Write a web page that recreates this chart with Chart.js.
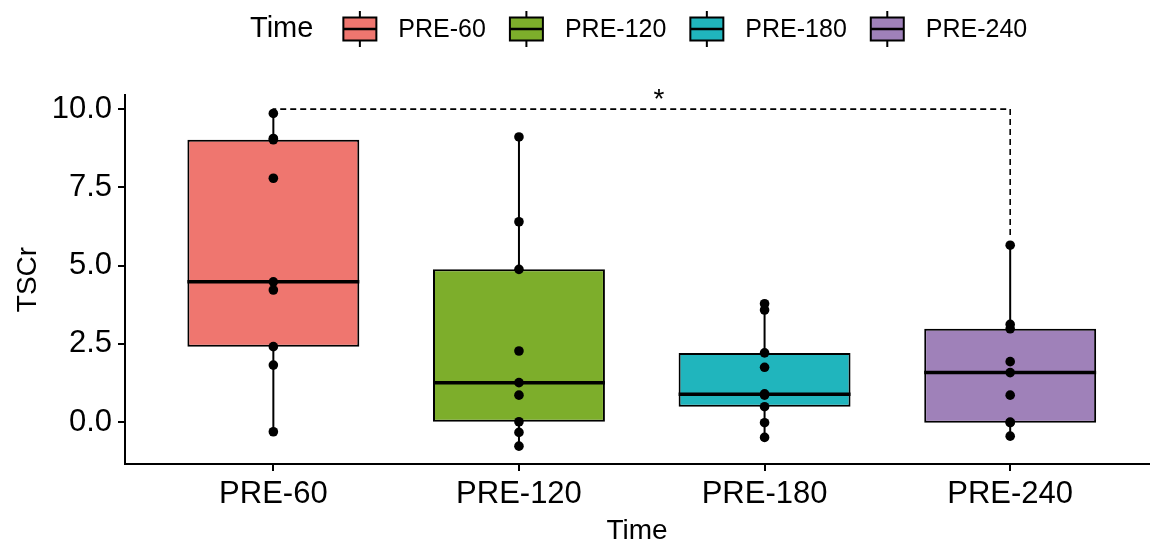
<!DOCTYPE html>
<html>
<head>
<meta charset="utf-8">
<script src="https://cdn.jsdelivr.net/npm/chart.js@4.4.0/dist/chart.umd.min.js"></script>
<style>
  html, body { margin: 0; padding: 0; background: #fff; }
  #wrap { width: 1154px; height: 548px; position: relative; }
</style>
</head>
<body>
<div id="wrap"><canvas id="chart"></canvas></div>
<script>
// Gruppen und Farben
const categories = ['PRE-60', 'PRE-120', 'PRE-180', 'PRE-240'];
const fillColors = ['#EF766F', '#7DAE2B', '#20B5BD', '#9F81B9'];

// Einzelwerte je Gruppe
const pre60 = [9.86, 9.06, 9.02, 7.79, 4.48, 4.22, 2.41, 1.82, -0.31];
const pre120 = [9.11, 6.40, 4.88, 2.27, 1.26, 0.86, 0.01, -0.33, -0.77];
const pre180 = [3.78, 3.58, 2.21, 1.75, 0.90, 0.86, 0.49, -0.02, -0.49];
const pre240 = [5.65, 3.12, 2.98, 1.93, 1.58, 0.86, 0.00, -0.02, -0.45];
const groups = [pre60, pre120, pre180, pre240];

// Boxplot-Kennwerte
const q1 = [2.41, 0.01, 0.49, -0.02];
const medians = [4.48, 1.26, 0.89, 1.58];
const q3 = [9.02, 4.88, 2.21, 2.98];
const whiskerLow = [-0.31, -0.77, -0.49, -0.45];
const whiskerHigh = [9.86, 9.11, 3.78, 5.65];

const yTicks = [0, 2.5, 5, 7.5, 10];

// Signifikanz-Klammer PRE-60 vs PRE-240
const bracketGroups = [0, 3];
const bracketY = 10.0;
const bracketTips = [9.9, 5.85];
const bracketLabel = '*';
const bracketLabelX = 1.57;

const FONT = '"Liberation Sans", Arial, sans-serif';
Chart.defaults.font.family = FONT;
Chart.defaults.color = '#000';

const boxParts = {
  id: 'boxParts',
  beforeDatasetsDraw(chart) {
    const { ctx } = chart;
    const x = chart.scales.x, y = chart.scales.y;
    ctx.save();
    ctx.strokeStyle = '#000';
    ctx.lineWidth = 2;
    categories.forEach((c, i) => {
      const px = x.getPixelForValue(i);
      ctx.beginPath();
      ctx.moveTo(px, y.getPixelForValue(whiskerLow[i]));
      ctx.lineTo(px, y.getPixelForValue(whiskerHigh[i]));
      ctx.stroke();
    });
    ctx.restore();
  },
  afterDatasetDraw(chart, args) {
    if (args.index !== 1) return;
    const { ctx } = chart;
    const y = chart.scales.y;
    ctx.save();
    ctx.strokeStyle = '#000';
    ctx.lineWidth = 3.5;
    args.meta.data.forEach((bar, i) => {
      const p = bar.getProps(['x', 'width'], true);
      const py = y.getPixelForValue(medians[i]);
      ctx.beginPath();
      ctx.moveTo(p.x - p.width / 2, py);
      ctx.lineTo(p.x + p.width / 2, py);
      ctx.stroke();
    });
    ctx.restore();
  },
  afterDatasetsDraw(chart) {
    const { ctx } = chart;
    const x = chart.scales.x, y = chart.scales.y;
    const x0 = x.getPixelForValue(bracketGroups[0]);
    const x1 = x.getPixelForValue(bracketGroups[1]);
    const yb = y.getPixelForValue(bracketY);
    ctx.save();
    ctx.strokeStyle = '#000';
    ctx.lineWidth = 1.6;
    ctx.setLineDash([6, 4]);
    ctx.beginPath();
    ctx.moveTo(x0, y.getPixelForValue(bracketTips[0]));
    ctx.lineTo(x0, yb);
    ctx.lineTo(x1, yb);
    ctx.lineTo(x1, y.getPixelForValue(bracketTips[1]));
    ctx.stroke();
    ctx.setLineDash([]);
    ctx.fillStyle = '#000';
    ctx.font = '28px ' + FONT;
    ctx.textAlign = 'center';
    ctx.textBaseline = 'alphabetic';
    ctx.fillText(bracketLabel, x.getPixelForValue(bracketLabelX), yb - 1);
    ctx.restore();
  },
  afterDraw(chart) {
    // Legende im ggplot-Stil oben
    const { ctx } = chart;
    const cy = 29, kw = 33, kh = 23;
    let cx = 250;
    ctx.save();
    ctx.textBaseline = 'middle';
    ctx.textAlign = 'left';
    ctx.fillStyle = '#000';
    ctx.font = '29px ' + FONT;
    ctx.fillText('Time', cx, cy);
    cx += ctx.measureText('Time').width + 30;
    ctx.font = '25px ' + FONT;
    categories.forEach((c, i) => {
      ctx.strokeStyle = '#000';
      ctx.lineWidth = 2;
      ctx.beginPath();
      ctx.moveTo(cx + kw / 2, cy - 18);
      ctx.lineTo(cx + kw / 2, cy + 18);
      ctx.stroke();
      ctx.fillStyle = fillColors[i];
      ctx.fillRect(cx, cy - kh / 2, kw, kh);
      ctx.strokeRect(cx, cy - kh / 2, kw, kh);
      ctx.lineWidth = 2.5;
      ctx.beginPath();
      ctx.moveTo(cx, cy);
      ctx.lineTo(cx + kw, cy);
      ctx.stroke();
      ctx.fillStyle = '#000';
      ctx.fillText(c, cx + kw + 22, cy + 1);
      cx += kw + 22 + ctx.measureText(c).width + 24;
    });
    ctx.restore();
  }
};

const pointData = [];
groups.forEach((g, i) => g.forEach(v => pointData.push({ x: i, y: v })));

const axisGrid = { display: true, drawOnChartArea: false, drawTicks: true, tickLength: 7, color: '#000', lineWidth: 2, offset: false };
const axisBorder = { display: true, color: '#000', width: 2 };

new Chart(document.getElementById('chart'), {
  type: 'bar',
  data: {
    datasets: [
      {
        type: 'scatter',
        data: pointData,
        pointRadius: 4.8,
        pointBackgroundColor: '#000',
        pointBorderWidth: 0
      },
      {
        type: 'bar',
        data: categories.map((c, i) => ({ x: i, y: [q1[i], q3[i]] })),
        backgroundColor: fillColors,
        borderColor: '#000',
        borderWidth: 2,
        borderSkipped: false,
        barPercentage: 0.7,
        categoryPercentage: 1
      }
    ]
  },
  plugins: [boxParts],
  options: {
    responsive: true,
    maintainAspectRatio: false,
    animation: false,
    layout: { padding: { top: 95, left: 0, right: 0, bottom: 0 } },
    plugins: {
      legend: { display: false },
      tooltip: { enabled: false }
    },
    scales: {
      x: {
        type: 'linear',
        min: -0.604,
        max: 3.566,
        offset: false,
        afterBuildTicks: s => { s.ticks = categories.map((c, i) => ({ value: i })); },
        afterFit: s => { s.height = 84; },
        ticks: { callback: v => categories[v], font: { size: 31 }, color: '#000', padding: 5, maxRotation: 0, autoSkip: false },
        grid: axisGrid,
        border: axisBorder,
        title: { display: true, text: 'Time', font: { size: 28 }, color: '#000', padding: { top: 0, bottom: 0 } }
      },
      y: {
        min: -1.34,
        max: 10.45,
        afterBuildTicks: s => { s.ticks = yTicks.map(v => ({ value: v })); },
        afterFit: s => { s.width = 125; },
        ticks: { callback: v => v.toFixed(1), font: { size: 31 }, color: '#000', padding: 6 },
        grid: axisGrid,
        border: axisBorder,
        title: { display: true, text: 'TSCr', font: { size: 28 }, color: '#000', padding: { top: 11, bottom: 0 } }
      }
    }
  }
});
</script>
</body>
</html>
